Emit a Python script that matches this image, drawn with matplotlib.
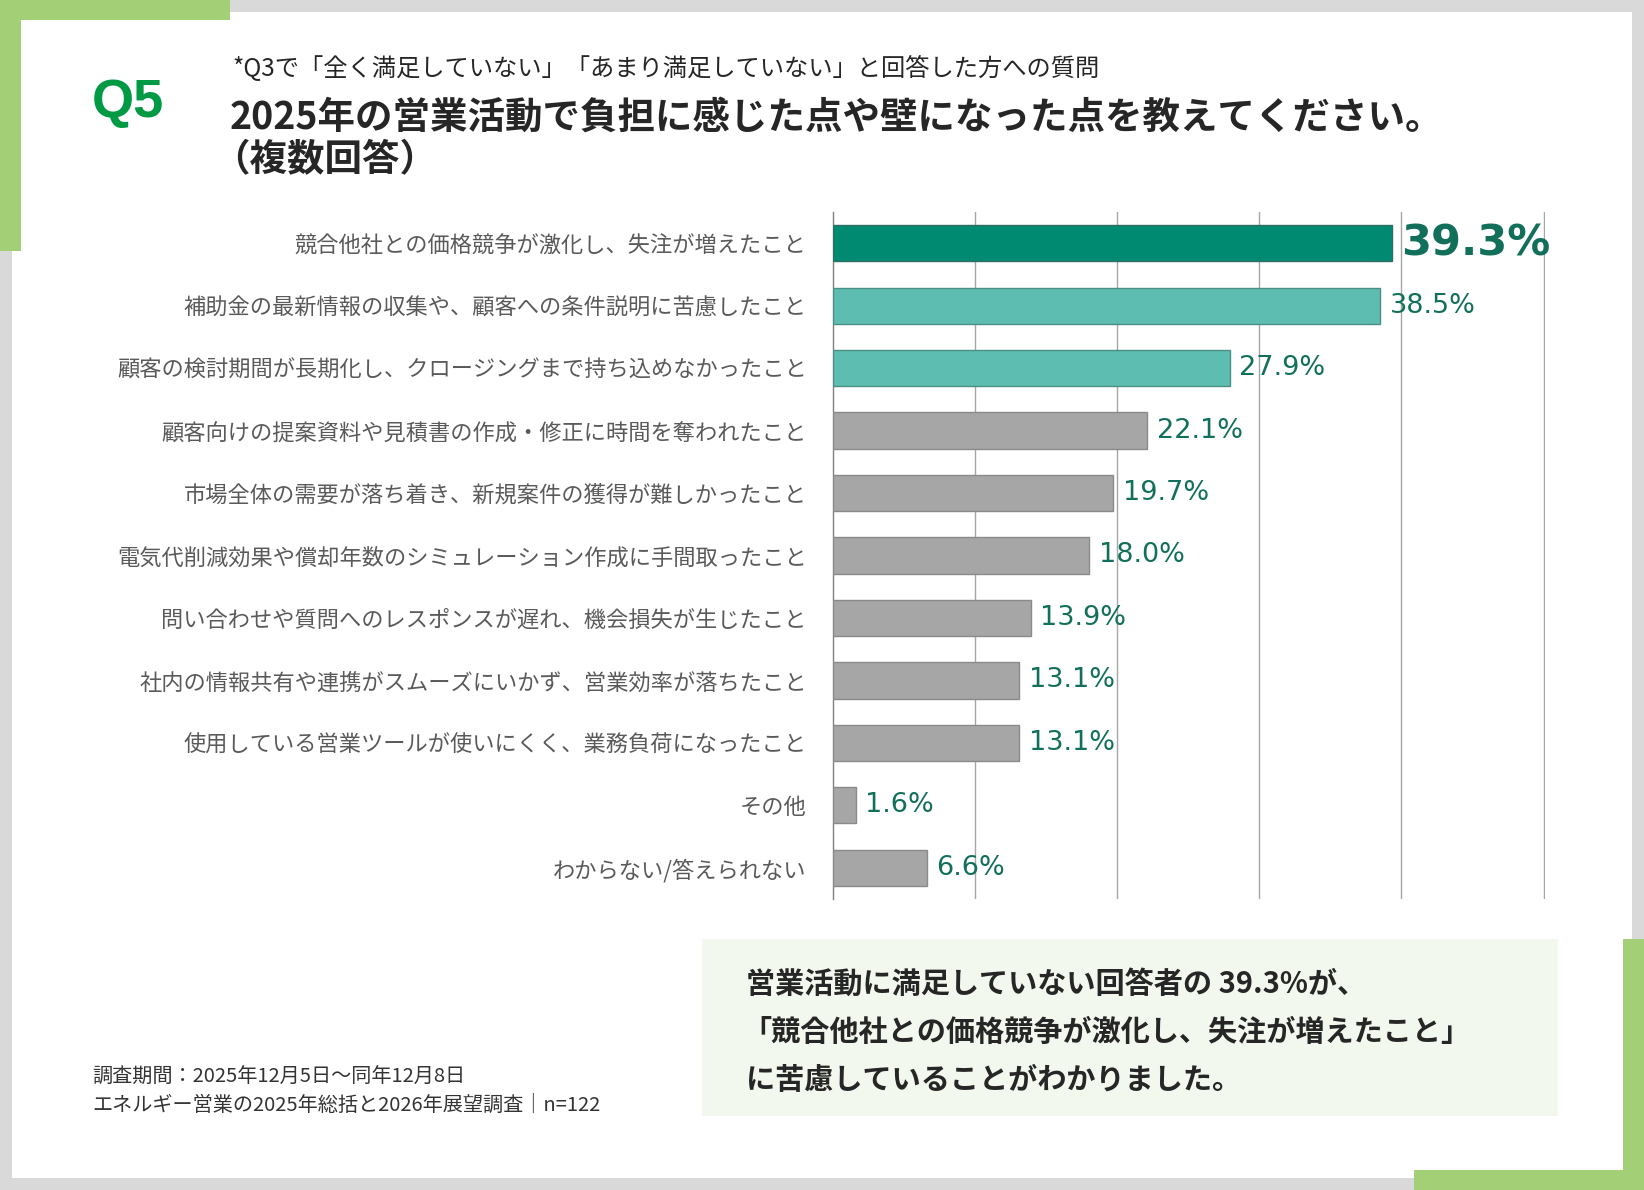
import matplotlib
matplotlib.use("Agg")
import matplotlib.pyplot as plt
from matplotlib.patches import Rectangle

plt.rcParams['font.family'] = ['Noto Sans CJK JP', 'DejaVu Sans']

# データ
categories = [
    "競合他社との価格競争が激化し、失注が増えたこと",
    "補助金の最新情報の収集や、顧客への条件説明に苦慮したこと",
    "顧客の検討期間が長期化し、クロージングまで持ち込めなかったこと",
    "顧客向けの提案資料や見積書の作成・修正に時間を奪われたこと",
    "市場全体の需要が落ち着き、新規案件の獲得が難しかったこと",
    "電気代削減効果や償却年数のシミュレーション作成に手間取ったこと",
    "問い合わせや質問へのレスポンスが遅れ、機会損失が生じたこと",
    "社内の情報共有や連携がスムーズにいかず、営業効率が落ちたこと",
    "使用している営業ツールが使いにくく、業務負荷になったこと",
    "その他",
    "わからない/答えられない",
]
values = [39.3, 38.5, 27.9, 22.1, 19.7, 18.0, 13.9, 13.1, 13.1, 1.6, 6.6]

subtitle = "*Q3で「全く満足していない」「あまり満足していない」と回答した方への質問"
title1 = "2025年の営業活動で負担に感じた点や壁になった点を教えてください。"
title2 = "（複数回答）"
callout = [
    "営業活動に満足していない回答者の 39.3%が、",
    "「競合他社との価格競争が激化し、失注が増えたこと」",
    "に苦慮していることがわかりました。",
]
footnote = [
    "調査期間：2025年12月5日～同年12月8日",
    "エネルギー営業の2025年総括と2026年展望調査｜n=122",
]

W, H = 1644, 1190
GREEN = '#a3d077'
GRAY_BG = '#d9d9d9'
VAL_COLOR = '#12705a'
NUM_FONT = ['Liberation Sans Narrow', 'DejaVu Sans Condensed', 'DejaVu Sans']

fig = plt.figure(figsize=(W / 100, H / 100), dpi=100)
fig.patch.set_facecolor(GRAY_BG)


def box(x0, y0, x1, y1, color, z=0):
    # ピクセル座標で矩形を描く
    fig.patches.append(Rectangle((x0 / W, 1 - y1 / H), (x1 - x0) / W, (y1 - y0) / H,
                                 transform=fig.transFigure, facecolor=color,
                                 edgecolor='none', zorder=z))


def ftext(x, y, s, **kw):
    fig.text(x / W, 1 - y / H, s, **kw)


# 枠
box(12, 12, 1632, 1178, 'white', 0)
box(0, 0, 230, 20, GREEN, 1)
box(0, 0, 21, 251, GREEN, 1)
box(1623, 939, 1644, 1190, GREEN, 1)
box(1414, 1170, 1644, 1190, GREEN, 1)
box(702, 939, 1558, 1116, '#f3f8ee', 1)

# タイトル
ftext(92, 103, "Q5", family='Liberation Sans', weight='bold', fontsize=39,
      color='#009944', va='center', ha='left')
ftext(232, 69, subtitle, fontsize=17.5, color='#262626', va='center')
ftext(230, 117, title1, fontsize=27, weight='bold', color='#262626', va='center')
ftext(212, 160, title2, fontsize=27, weight='bold', color='#262626', va='center')

# グラフ
ax = fig.add_axes([833 / W, 1 - 899 / H, (1545 - 833) / W, (899 - 212) / H])
ax.set_zorder(5)
ax.set_facecolor('none')
colors = ['#008a72', '#5dbdb0', '#5dbdb0'] + ['#a6a6a6'] * 8
edges = ['#2f6e62', '#4a8f86', '#4a8f86'] + ['#8a8a8a'] * 8
y = list(range(len(categories)))
ax.barh(y, values, height=0.58, color=colors, edgecolor=edges, linewidth=1.0, zorder=3)
ax.set_xlim(0, 50.1)
ax.set_ylim(len(categories) - 0.5, -0.5)
ax.set_xticks([10, 20, 30, 40, 50])
ax.xaxis.grid(True, color='#a6a6a6', linewidth=1.0)
ax.set_axisbelow(True)
ax.tick_params(axis='x', length=0, labelbottom=False)
ax.tick_params(axis='y', length=0, pad=19)
ax.set_yticks(y)
ax.set_yticklabels(categories, fontsize=16, color='#5a5a5a')
for s in ['top', 'right', 'bottom']:
    ax.spines[s].set_visible(False)
ax.spines['left'].set_color('#808080')
ax.spines['left'].set_linewidth(1.0)

for i, v in enumerate(values):
    if i == 0:
        ax.annotate(f"{v:.1f}%", xy=(v, i), xytext=(7, 0), textcoords='offset points',
                    va='center', ha='left', fontsize=31, weight='bold',
                    family=NUM_FONT, color=VAL_COLOR)
    else:
        ax.annotate(f"{v:.1f}%", xy=(v, i), xytext=(7, 0), textcoords='offset points',
                    va='center', ha='left', fontsize=19.5,
                    family=NUM_FONT, color=VAL_COLOR)

# まとめ
for k, line in enumerate(callout):
    ftext(742 if k == 1 else 746, 984 + 48 * k, line, fontsize=21, weight='bold',
          color='#262626', va='center')

# 注記
for k, line in enumerate(footnote):
    ftext(92, 1077 + 28 * k, line, fontsize=14.5, color='#333333', va='center')

fig.savefig("out.png", dpi=100, facecolor=fig.get_facecolor())
